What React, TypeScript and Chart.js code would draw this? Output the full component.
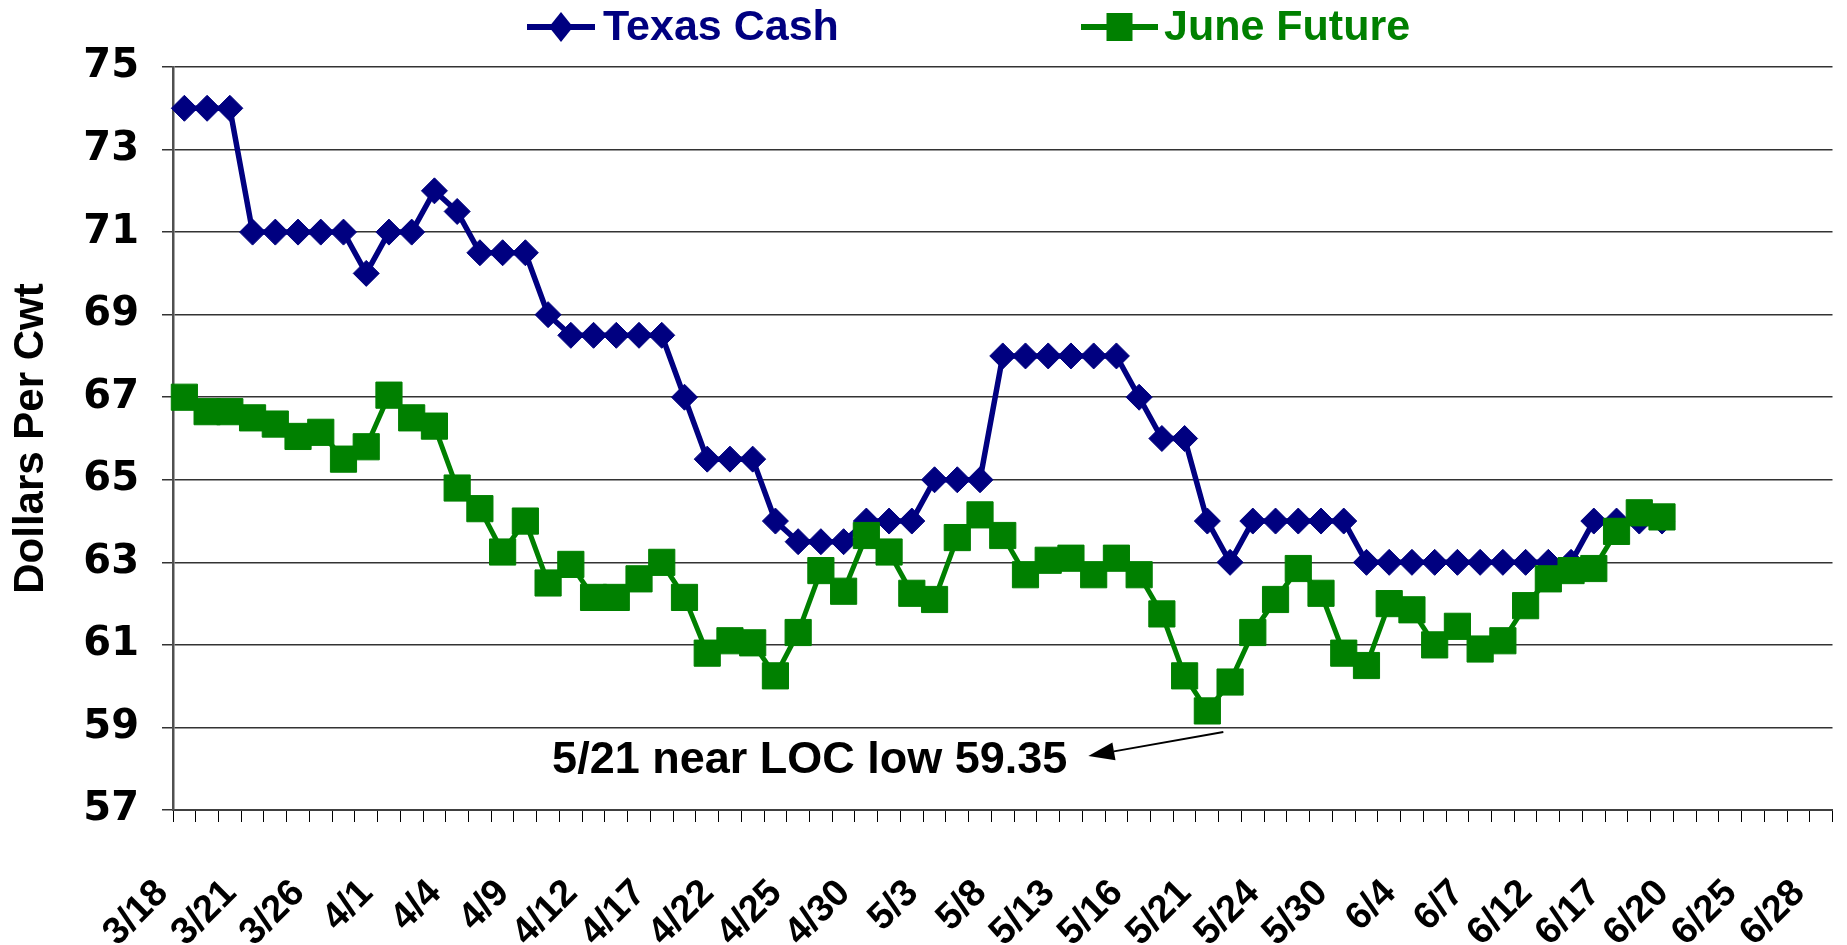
import React, { useEffect, useRef } from 'react';
import { Chart, registerables } from 'chart.js';

Chart.register(...registerables);

// Trading days shown on the category axis (label on every 3rd day)
const DATES = [
  '3/18', '3/19', '3/20', '3/21', '3/22', '3/25', '3/26', '3/27', '3/28',
  '4/1', '4/2', '4/3', '4/4', '4/5', '4/8', '4/9', '4/10', '4/11', '4/12',
  '4/15', '4/16', '4/17', '4/18', '4/19', '4/22', '4/23', '4/24', '4/25',
  '4/26', '4/29', '4/30',
  '5/1', '5/2', '5/3', '5/6', '5/7', '5/8', '5/9', '5/10', '5/13', '5/14',
  '5/15', '5/16', '5/17', '5/20', '5/21', '5/22', '5/23', '5/24', '5/28',
  '5/29', '5/30', '5/31',
  '6/3', '6/4', '6/5', '6/6', '6/7', '6/10', '6/11', '6/12', '6/13', '6/14',
  '6/17', '6/18', '6/19', '6/20', '6/21', '6/24', '6/25', '6/26', '6/27', '6/28',
];
const LABEL_EVERY = 3;

const SERIES_NAMES = ['Texas Cash', 'June Future'];

const TEXAS_CASH = [
  74, 74, 74, 71, 71, 71, 71, 71, 70, 71,
  71, 72, 71.5, 70.5, 70.5, 70.5, 69, 68.5, 68.5, 68.5,
  68.5, 68.5, 67, 65.5, 65.5, 65.5, 64, 63.5, 63.5, 63.5,
  64, 64, 64, 65, 65, 65, 68, 68, 68, 68,
  68, 68, 67, 66, 66, 64, 63, 64, 64, 64,
  64, 64, 63, 63, 63, 63, 63, 63, 63, 63,
  63, 63, 64, 64, 64, 64,
];

const JUNE_FUTURE = [
  67.0, 66.65, 66.65, 66.5, 66.35, 66.05, 66.15, 65.5, 65.8, 67.05,
  66.5, 66.3, 64.8, 64.3, 63.25, 64.0, 62.5, 62.95, 62.15, 62.15,
  62.6, 63.0, 62.15, 60.8, 61.1, 61.05, 60.25, 61.3, 62.8, 62.3,
  63.65, 63.25, 62.25, 62.1, 63.6, 64.15, 63.65, 62.7, 63.05, 63.1,
  62.7, 63.1, 62.7, 61.75, 60.25, 59.4, 60.1, 61.3, 62.1, 62.85,
  62.25, 60.8, 60.5, 62.0, 61.85, 61.0, 61.45, 60.9, 61.1, 61.95,
  62.6, 62.8, 62.85, 63.75, 64.2, 64.1,
];

const Y_MIN = 57;
const Y_MAX = 75;
const Y_STEP = 2;
const Y_TITLE = 'Dollars Per Cwt';

const NOTE_TEXT = '5/21 near LOC low 59.35';
const NOTE_INDEX = 45;

const NAVY = '#000080';
const GREEN = '#008000';
const FONT = '"Liberation Sans", Arial, Helvetica, sans-serif';
const WIDE_FONT = '"DejaVu Sans", Verdana, sans-serif';

const overlayPlugin = {
  id: 'overlay',
  afterDraw(chart: any) {
    const ctx = chart.ctx;
    ctx.save();

    // Legend (Excel style: line + marker + coloured text)
    const items = [
      { x: 527, w: 68, tx: 603, style: 'diamond' },
      { x: 1081, w: 77, tx: 1164, style: 'square' },
    ];
    const ly = 27;
    chart.data.datasets.forEach((ds: any, i: number) => {
      const it = items[i];
      if (!it) return;
      ctx.strokeStyle = ds.borderColor;
      ctx.fillStyle = ds.borderColor;
      ctx.lineWidth = 6;
      ctx.beginPath();
      ctx.moveTo(it.x, ly);
      ctx.lineTo(it.x + it.w, ly);
      ctx.stroke();
      const cx = it.x + it.w / 2;
      ctx.beginPath();
      if (it.style === 'diamond') {
        ctx.moveTo(cx, ly - 15);
        ctx.lineTo(cx + 12, ly);
        ctx.lineTo(cx, ly + 15);
        ctx.lineTo(cx - 12, ly);
        ctx.closePath();
      } else {
        ctx.rect(cx - 13, ly - 14, 26, 28);
      }
      ctx.fill();
      ctx.font = 'bold 43px ' + FONT;
      ctx.textAlign = 'left';
      ctx.textBaseline = 'middle';
      ctx.fillText(ds.label, it.tx, ly + 1);
    });

    // Annotation with arrow
    const xs = chart.scales.x;
    const ys = chart.scales.y;
    const px = xs.getPixelForValue(NOTE_INDEX);
    const py = ys.getPixelForValue(JUNE_FUTURE[NOTE_INDEX]);
    const sx = px + 16;
    const sy = py + 21;
    const tx = sx - 135;
    const ty = sy + 24;
    const dx = tx - sx;
    const dy = ty - sy;
    const len = Math.hypot(dx, dy);
    const ux = dx / len;
    const uy = dy / len;
    const headLen = 26;
    const headHalf = 9;
    const bx = tx - ux * headLen;
    const by = ty - uy * headLen;
    ctx.strokeStyle = '#000';
    ctx.fillStyle = '#000';
    ctx.lineWidth = 2;
    ctx.beginPath();
    ctx.moveTo(sx, sy);
    ctx.lineTo(bx, by);
    ctx.stroke();
    ctx.beginPath();
    ctx.moveTo(tx, ty);
    ctx.lineTo(bx - uy * headHalf, by + ux * headHalf);
    ctx.lineTo(bx + uy * headHalf, by - ux * headHalf);
    ctx.closePath();
    ctx.fill();

    ctx.font = 'bold 45px ' + FONT;
    ctx.textAlign = 'right';
    ctx.textBaseline = 'middle';
    ctx.fillText(NOTE_TEXT, tx - 21, ty + 5);

    ctx.restore();
  },
};

export default function App() {
  const canvasRef = useRef<HTMLCanvasElement | null>(null);

  useEffect(() => {
    const canvas = canvasRef.current;
    if (!canvas) return;
    const chart = new Chart(canvas, {
      type: 'line',
      data: {
        labels: DATES,
        datasets: [
          {
            label: SERIES_NAMES[0],
            data: TEXAS_CASH,
            borderColor: NAVY,
            backgroundColor: NAVY,
            borderWidth: 5.5,
            pointStyle: 'rectRot',
            pointRadius: 13,
            pointHoverRadius: 13,
            pointBackgroundColor: NAVY,
            pointBorderColor: NAVY,
            pointBorderWidth: 1,
            tension: 0,
            fill: false,
            order: 1,
          },
          {
            label: SERIES_NAMES[1],
            data: JUNE_FUTURE,
            borderColor: GREEN,
            backgroundColor: GREEN,
            borderWidth: 5,
            pointStyle: 'rect',
            pointRadius: 18.5,
            pointHoverRadius: 18.5,
            pointBackgroundColor: GREEN,
            pointBorderColor: GREEN,
            pointBorderWidth: 1,
            tension: 0,
            fill: false,
            order: 0,
          },
        ],
      },
      options: {
        animation: false,
        responsive: false,
        maintainAspectRatio: false,
        layout: { padding: { top: 67, right: 0, bottom: 0, left: 0 } },
        plugins: {
          legend: { display: false },
          tooltip: { enabled: false },
          title: { display: false },
        },
        scales: {
          x: {
            type: 'category',
            offset: true,
            grid: {
              display: true,
              drawOnChartArea: false,
              drawTicks: true,
              tickLength: 12,
              color: '#000',
              lineWidth: 1,
              offset: true,
            },
            border: { display: true, color: '#404040', width: 2 },
            ticks: {
              autoSkip: false,
              minRotation: 45,
              maxRotation: 45,
              padding: 49,
              labelOffset: -22,
              color: '#000',
              font: { family: FONT, size: 38, weight: 'bold' },
              callback: (_v: any, i: number) => (i % LABEL_EVERY === 0 ? DATES[i] : ''),
            },
            afterFit: (scale: any) => {
              scale.height = 135;
              scale.paddingLeft = 0;
              scale.paddingRight = 0;
            },
          },
          y: {
            min: Y_MIN,
            max: Y_MAX,
            grid: {
              color: '#333',
              lineWidth: 1.5,
              drawTicks: true,
              tickLength: 11,
            },
            border: { display: true, color: '#505050', width: 2.5 },
            ticks: {
              stepSize: Y_STEP,
              padding: 23,
              color: '#000',
              font: { family: WIDE_FONT, size: 40, weight: 'bold' },
            },
            title: {
              display: true,
              text: Y_TITLE,
              color: '#000',
              font: { family: FONT, size: 42, weight: 'bold' },
              padding: { top: 6, bottom: 0 },
            },
            afterFit: (scale: any) => {
              scale.width = 173;
            },
          },
        },
      },
      plugins: [overlayPlugin],
    });
    return () => chart.destroy();
  }, []);

  return (
    <div
      style={{
        position: 'fixed',
        left: 0,
        top: 0,
        width: 1847,
        height: 945,
        overflow: 'hidden',
        background: '#fff',
      }}
    >
      <canvas ref={canvasRef} width={1852} height={945} style={{ display: 'block' }} />
    </div>
  );
}
